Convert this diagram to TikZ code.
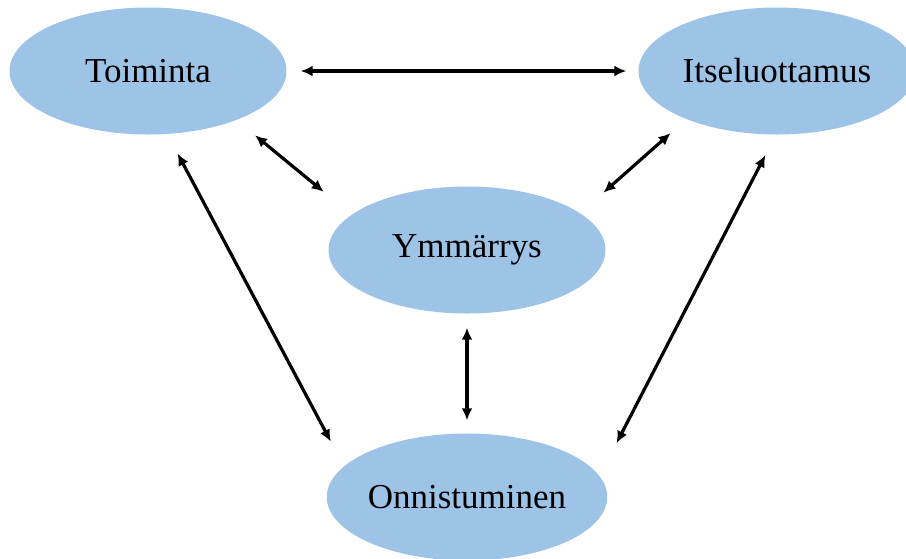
\documentclass[tikz,border=0pt]{standalone}
\usepackage{fontspec}
\setmainfont{Liberation Serif}
\usetikzlibrary{shapes.geometric, arrows.meta}

\definecolor{pale}{RGB}{157,195,230}

\tikzset{
  blob/.style = {ellipse, fill = pale, inner sep = 0pt,
                 minimum width = 277pt, minimum height = 127pt,
                 font = \fontsize{35}{40}\selectfont},
  link/.style = {{Latex[length=12pt,width=11pt]}-{Latex[length=12pt,width=11pt]},
                 line width = 3.2pt}
}

\begin{document}
\begin{tikzpicture}[x = 1pt, y = -1pt]
        \useasboundingbox (0,0) rectangle (906,558);

        \node[blob] (toim) at (148,71)  {Toiminta};
        \node[blob] (itse) at (777,71)  {Itseluottamus};
        \node[blob] (ymm)  at (467,250) {Ymmärrys};
        \node[blob] (onn)  at (467,497) {Onnistuminen};

        \draw[link, shorten <= 14pt, shorten >= 12pt] (toim.east) -- (itse.west);
        \draw[link, shorten <= 24pt, shorten >= 36pt] (toim.-29) -- (ymm.163);
        \draw[link, shorten <= 21pt, shorten >= 31pt] (itse.-152) -- (ymm.18);
        \draw[link, shorten <= 22pt, shorten >= 28pt] (toim.-73) -- (onn.166);
        \draw[link, shorten <= 23pt, shorten >= 37pt] (itse.-91) -- (onn.9);
        \draw[link, shorten <= 14pt, shorten >= 13pt] (ymm.south) -- (onn.north);
\end{tikzpicture}
\end{document}
